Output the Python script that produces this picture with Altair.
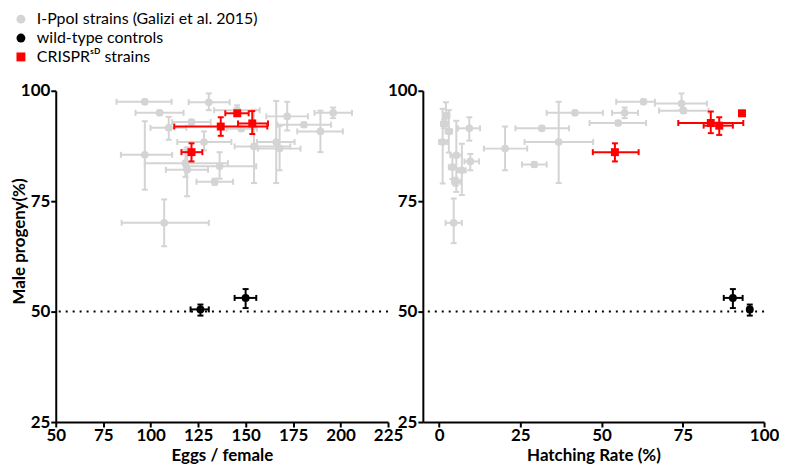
import altair as alt
import pandas as pd

GROUPS = ["I-PpoI strains (Galizi et al. 2015)", "wild-type controls", "CRISPRˢᴰ strains"]
COLORS = ["#d4d4d4", "#000000", "#ff0000"]
SHAPES = ["circle", "circle", "square"]
SIZES = [60, 64, 64]

Y_TICKS = [25, 50, 75, 100]
EGGS_TICKS = [50, 75, 100, 125, 150, 175, 200, 225]
HATCH_TICKS = [0, 25, 50, 75, 100]

# ---- Left panel: eggs / female vs male progeny (%) ----
ippoi_eggs = [96.9, 130.6, 104.7, 145.5, 171.9, 196.1, 121.5, 180.7, 109.5, 147.7, 189.4,
              128.1, 154.4, 166.1, 167.9, 96.9, 118.3, 119.2, 136.3, 133.7, 107.1]
ippoi_eggs_lo = [82.0, 120.0, 92.0, 133.4, 160.9, 186.3, 111.3, 166.7, 99.9, 140.0, 177.2,
                 114.0, 144.2, 156.0, 156.5, 84.3, 96.9, 108.0, 117.6, 124.1, 84.7]
ippoi_eggs_hi = [111.0, 141.6, 117.3, 157.4, 182.8, 206.0, 131.6, 195.0, 118.8, 156.0, 201.2,
                 142.5, 173.5, 175.8, 178.9, 111.3, 140.7, 130.2, 155.6, 143.4, 130.6]
ippoi_male_l = [97.5, 97.4, 95.0, 95.6, 94.2, 95.0, 92.9, 92.3, 91.6, 91.4, 90.8,
                88.4, 87.4, 88.4, 86.9, 85.5, 83.6, 82.1, 82.9, 79.4, 70.1]
ippoi_male_l_lo = [97.0, 95.6, 94.5, 94.5, 91.0, 93.8, 92.4, 91.8, 88.9, 90.9, 86.1,
                   86.5, 79.1, 79.1, 82.0, 77.6, 80.5, 76.1, 80.1, 78.7, 64.8]
ippoi_male_l_hi = [98.0, 99.4, 95.5, 96.7, 97.5, 96.2, 93.4, 92.8, 94.1, 91.9, 95.5,
                   90.8, 95.7, 97.7, 92.0, 93.1, 86.7, 87.2, 86.1, 80.1, 75.4]

wt_eggs = [126.2, 150.0]
wt_eggs_lo = [121.0, 144.2]
wt_eggs_hi = [130.6, 155.6]
wt_male = [50.5, 53.1]
wt_male_lo = [49.1, 50.8]
wt_male_hi = [51.6, 55.1]

crispr_eggs = [145.6, 136.9, 153.5, 121.5]
crispr_eggs_lo = [139.3, 112.4, 146.0, 116.2]
crispr_eggs_hi = [151.6, 161.4, 161.8, 127.2]
crispr_male_l = [94.9, 91.9, 92.6, 86.1]
crispr_male_l_lo = [94.5, 89.8, 90.2, 84.0]
crispr_male_l_hi = [95.3, 94.0, 95.4, 88.1]

# ---- Right panel: hatching rate (%) vs male progeny (%) ----
ippoi_hatch = [62.9, 74.6, 75.2, 41.8, 57.1, 55.1, 31.6, 36.8, 20.3, 29.3,
               2.1, 1.6, 3.0, 1.1, 5.3, 4.1, 7.0, 5.1, 4.5, 9.3, 9.6]
ippoi_hatch_lo = [54.5, 66.4, 67.7, 33.1, 53.2, 46.3, 23.5, 26.3, 13.8, 25.5,
                  1.2, 0.6, 2.0, 0.0, 3.5, 3.0, 5.8, 4.0, 2.0, 5.8, 7.8]
ippoi_hatch_hi = [66.4, 82.4, 82.9, 50.4, 61.2, 63.7, 40.0, 47.4, 27.1, 33.1,
                  3.2, 2.6, 4.0, 2.5, 7.0, 5.2, 8.2, 6.5, 7.0, 12.6, 12.3]
ippoi_male_r = [97.5, 97.1, 95.5, 95.0, 95.0, 92.7, 91.5, 88.4, 86.9, 83.3,
                94.4, 92.5, 90.8, 88.4, 85.4, 82.7, 82.0, 79.4, 70.1, 91.5, 84.0]
ippoi_male_r_lo = [97.0, 95.7, 95.0, 94.5, 93.8, 92.2, 91.0, 79.1, 82.0, 82.8,
                   92.0, 91.5, 86.0, 79.0, 77.1, 80.0, 76.4, 78.5, 65.5, 88.7, 82.0]
ippoi_male_r_hi = [98.0, 99.4, 96.0, 95.5, 96.2, 93.2, 92.0, 97.5, 91.9, 83.8,
                   97.4, 93.5, 95.6, 95.9, 93.2, 85.5, 88.0, 80.3, 75.6, 94.0, 85.7]

wt_hatch = [95.6, 90.4]
wt_hatch_lo = [95.0, 87.6]
wt_hatch_hi = [96.2, 93.4]

crispr_hatch = [93.2, 83.6, 86.2, 54.1]
crispr_hatch_lo = [92.6, 73.6, 81.4, 47.3]
crispr_hatch_hi = [93.8, 93.6, 90.4, 61.4]
crispr_male_r = [94.9, 92.7, 92.1, 86.1]
crispr_male_r_lo = [94.5, 90.4, 90.0, 84.0]
crispr_male_r_hi = [95.3, 95.3, 94.0, 88.1]

REF_LINE = [50]


def frame(group, x, xlo, xhi, y, ylo, yhi):
    return pd.DataFrame(dict(group=group, x=x, xlo=xlo, xhi=xhi, y=y, ylo=ylo, yhi=yhi))


def build_panel(frames, xdom, xticks, xtitle, ytitle, width, height):
    xs = alt.Scale(domain=xdom, nice=False, zero=False)
    ys = alt.Scale(domain=[25, 100], nice=False, zero=False)
    xaxis = alt.Axis(values=xticks, title=xtitle, titlePadding=4, labelFlush=False)
    if ytitle:
        yaxis = alt.Axis(values=Y_TICKS, title=ytitle, titleX=-27, titleY=151, labelFlush=False)
    else:
        yaxis = alt.Axis(values=Y_TICKS, title=None, labelFlush=False)

    def X(f):
        return alt.X(f"{f}:Q", scale=xs, axis=xaxis)

    def Y(f):
        return alt.Y(f"{f}:Q", scale=ys, axis=yaxis)

    color = alt.Color("group:N", title=None,
                      scale=alt.Scale(domain=GROUPS, range=COLORS))
    shape = alt.Shape("group:N", title=None,
                      scale=alt.Scale(domain=GROUPS, range=SHAPES))

    layers = [
        alt.Chart(pd.DataFrame({"y": REF_LINE}))
        .mark_rule(color="black", strokeDash=[2, 5], strokeWidth=2)
        .encode(y=Y("y"))
    ]
    for i, df in enumerate(frames):
        base = alt.Chart(df)
        c = COLORS[i]
        layers.append(base.mark_rule(color=c, strokeWidth=2)
                      .encode(x=X("xlo"), x2="xhi", y=Y("y")))
        layers.append(base.mark_rule(color=c, strokeWidth=2)
                      .encode(x=X("x"), y=Y("ylo"), y2="yhi"))
        layers.append(base.transform_fold(["xlo", "xhi"], as_=["k", "xc"])
                      .mark_tick(color=c, orient="vertical", size=6, thickness=2, opacity=1)
                      .encode(x=X("xc"), y=Y("y")))
        layers.append(base.transform_fold(["ylo", "yhi"], as_=["k", "yc"])
                      .mark_tick(color=c, orient="horizontal", size=6, thickness=2, opacity=1)
                      .encode(x=X("x"), y=Y("yc")))
        layers.append(base.mark_point(filled=True, opacity=1, size=SIZES[i], strokeWidth=0)
                      .encode(x=X("x"), y=Y("y"), color=color, shape=shape))
    return alt.layer(*layers).properties(width=width, height=height)


left_frames = [
    frame(GROUPS[0], ippoi_eggs, ippoi_eggs_lo, ippoi_eggs_hi, ippoi_male_l, ippoi_male_l_lo, ippoi_male_l_hi),
    frame(GROUPS[1], wt_eggs, wt_eggs_lo, wt_eggs_hi, wt_male, wt_male_lo, wt_male_hi),
    frame(GROUPS[2], crispr_eggs, crispr_eggs_lo, crispr_eggs_hi, crispr_male_l, crispr_male_l_lo, crispr_male_l_hi),
]
right_frames = [
    frame(GROUPS[0], ippoi_hatch, ippoi_hatch_lo, ippoi_hatch_hi, ippoi_male_r, ippoi_male_r_lo, ippoi_male_r_hi),
    frame(GROUPS[1], wt_hatch, wt_hatch_lo, wt_hatch_hi, wt_male, wt_male_lo, wt_male_hi),
    frame(GROUPS[2], crispr_hatch, crispr_hatch_lo, crispr_hatch_hi, crispr_male_r, crispr_male_r_lo, crispr_male_r_hi),
]

left = build_panel(left_frames, [50, 225], EGGS_TICKS, "Eggs / female", "Male progeny(%)", 334, 333)
right = build_panel(right_frames, [-5, 100], HATCH_TICKS, "Hatching Rate (%)", None, 343, 333)

chart = (
    alt.hconcat(left, right, spacing=35, bounds="flush")
    .properties(padding={"left": 3, "top": 2, "right": 0, "bottom": 0})
    .configure_view(stroke=None)
    .configure_axis(
        domainColor="black", domainWidth=2, tickColor="black", tickWidth=2, tickSize=5,
        labelFont="Lato", labelFontSize=17, labelFontWeight="bold", labelColor="black",
        labelPadding=1, titleFont="Lato", titleFontSize=17, titleFontWeight="bold",
        titleColor="black", grid=False,
    )
    .configure_legend(
        orient="none", legendX=-43, legendY=-80, labelFont="Lato", labelFontSize=16,
        labelColor="black", symbolSize=80, rowPadding=3, labelOffset=8, labelLimit=500,
        symbolStrokeWidth=0, symbolOpacity=1, padding=0,
    )
)

chart.save("out.html", embed_options={"renderer": "svg", "actions": False})
